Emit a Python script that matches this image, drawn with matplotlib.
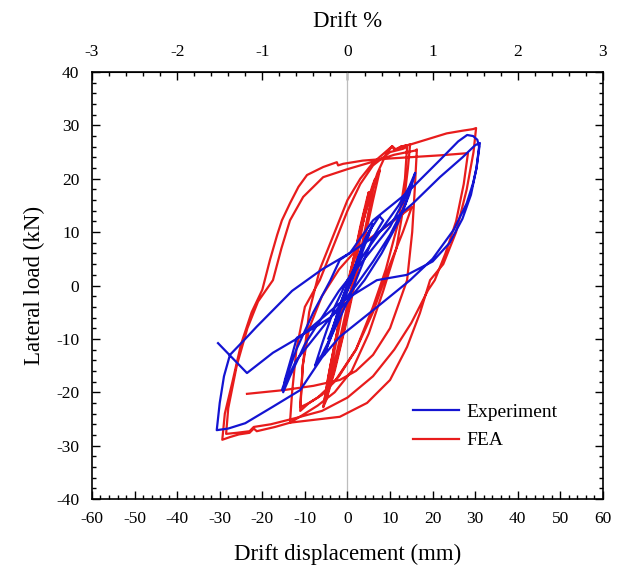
import matplotlib
matplotlib.use("Agg")
import matplotlib.pyplot as plt
from matplotlib.ticker import MultipleLocator

plt.rcParams["font.family"] = ["Liberation Serif", "DejaVu Serif"]
plt.rcParams["axes.unicode_minus"] = False

# Experimental hysteresis (drift displacement in mm, lateral load in kN)
exp_disp = [0, 2, 4, 5, 4.2, 2.5, 1, -1.5, -3.5, -4.5, -4, -3, -1, 1.5, 4, 6, 5.5, 4.5, 2, -1, -4, -5.5,
            -5, -4, -1.5, 2, 5, 7.5, 8.4, 7.5, 6, 3, 0, -3.5, -6, -7.6, -7, -6, -3, 0,
            4, 8, 12, 14.5, 15.9, 14.5, 12, 8, 4, 0, -4, -8, -11.9, -13, -14.7, -15.1,
            -13.5, -10, -6, -2, 2, 6, 10, 13, 15.1, 13.5, 10, 6, 2, -3, -8, -12, -15.4,
            -12, -8, -4, -1.8, 6, 15.4, 21.7, 27, 30, 31.1,
            30.3, 29.5, 28, 25, 20, 14.7, 7, -1.8, -6, -11.1, -17.5, -24, -28, -30.7,
            -30, -29, -27.6, -24, -21.3, -13, -6, 0.6, 6, 13.9, 21.7, 26, 28.1, 29.5, 30.5, 30.9,
            30.3, 29, 27, 24, 20, 14, 6.9, -1.8, -11.1, -17.5, -23.6, -30.4]
exp_load = [0, 4, 8, 9.5, 8.5, 5, 1, -3.5, -8, -10, -9.5, -7, -2, 3, 8.5, 11.5, 10.5, 8.5, 3, -3, -10, -13,
            -12, -9.5, -3, 4, 10, 13, 12.2, 11, 9, 3, -3, -9, -13, -15, -13.5, -11, -4, 1,
            6, 10.5, 15, 18.5, 21.1, 17, 12, 6, 1, -3, -6, -8, -9.8, -13, -17.7, -20,
            -17, -11, -6, -1, 3, 7, 11, 15.5, 19.2, 15, 9.5, 4.5, 0, -5, -10, -14, -19.6,
            -12, -5, 1, 4.8, 9, 15.4, 20.3, 24, 26.3, 26.7,
            22, 19.2, 15.4, 10.5, 5, 1, -4, -9.6, -13.5, -19.6, -22.7, -25.8, -26.8, -27.1,
            -22, -17, -13, -10, -7.7, -1, 3, 6.1, 12.2, 17.3, 23.5, 27, 28.2, 28, 27.3, 26,
            22, 17, 12.5, 8, 4.5, 2, 1, -3.3, -9.6, -12.6, -16.4, -10.8]

# Finite element hysteresis (drift displacement in mm, lateral load in kN)
fea_disp = [0, 1.5, 3, 4.5, 5, 3.5, 1, -1.5, -3.5, -4.5, -3, -0.5, 2, 4, 6, 6.5, 5, 2, -1,
            -3.5, -5, -5.5, -4, -1, 2, 5, 7, 7.6, 6, 3, 0, -3, -5, -5.7, -4.5, -2, 1,
            3, 5, 7, 9, 10.5, 11, 12.5, 14.7, 14.2, 13, 11.5, 8.4, 5, 1, -3, -7, -11, -13.5,
            -13, -12, -10, -6.5, -3, 0, 3, 6, 10, 13, 14, 13.5, 12, 9, 6, 2, -3, -7, -9, -11.1,
            -10.5, -9, -6, -2, 3, 9, 15.1, 13, 10, 6, 2, -2, -6, -9, -11.1,
            -10.5, -9, -6.5, -3, 0, 3, 6, 10.5, 11.5, 12.5, 14.7, 18, 23.3, 27, 29.5, 30.2,
            29.6, 28, 25.5, 22.5, 19.4, 17, 14, 10, 4.6, -1.8, -6, -13.5, -17, -21.3, -22,
            -23, -25.5, -27.6, -29.4,
            -28.8, -27, -25, -22.5, -20, -18.2, -16.5, -15.4, -13.5, -11.5, -9.5, -5.7, -2.5,
            -2.2, -1, 3.6, 10, 16, 22, 28.3,
            27.3, 25.5, 23, 20.5, 18.9, 15, 11, 6, 0, -6, -12, -18, -22, -23, -26, -28.5,
            -28, -26, -23.5, -21, -17.5, -15.5, -13.5, -10.4, -5.7, 0, 6, 11, 16, 16.3,
            15.8, 15.2, 14, 10, 6, 2, -1.8, -8, -15, -23.6]
fea_load = [0, 5, 11, 16, 17.5, 11, 0, -9, -16, -19, -12, -2, 7, 14, 19, 20, 14, 2, -9,
            -17, -21, -22, -15, -3, 7, 16, 20.5, 21.6, 16, 5, -6, -16, -21.5, -22.8, -17, -7, 3,
            10, 16, 21, 24.5, 26.1, 25.4, 26, 26.4, 22, 14, 7, -1, -9, -16, -20, -22.5, -24.5, -25.7,
            -20, -12, -4, 1, 8, 14, 19, 22.5, 25, 25.6, 26, 20, 12, 3, -4, -12, -18, -21, -22, -22.8,
            -15, -8, -2, 3, 7.5, 11, 14.7, 10, 4, -5, -12, -17, -20.5, -22, -23.5,
            -15, -5, 3, 10, 16, 20, 23, 26.1, 25.4, 26, 26.4, 27.2, 28.5, 29, 29.3, 29.5,
            25, 18, 10, 4, 1, -5.2, -11.5, -17.7, -22, -24.6, -25, -25.7, -26.5, -27.3, -26.8,
            -27.6, -27.9, -28.4, -28.9,
            -24, -18, -11, -5, -0.8, 4.8, 9.5, 12.2, 15.4, 18.5, 20.7, 22.2, 23.1,
            22.5, 22.8, 23.4, 23.8, 24.1, 24.4, 24.8,
            19, 12, 6, 1, -0.9, -7, -12, -17, -21, -23.5, -24.8, -26, -26.5, -27.3, -27.6, -27.8,
            -23, -15, -8, -3, 1, 7, 12.2, 16.6, 20.3, 21.8, 23.2, 24.5, 25.3, 25.5,
            18, 10, 1, -8, -13, -16, -17.7, -18.8, -19.6, -20.3]

x_ticks = [-60, -50, -40, -30, -20, -10, 0, 10, 20, 30, 40, 50, 60]
y_ticks = [-40, -30, -20, -10, 0, 10, 20, 30, 40]
drift_ticks = [-3, -2, -1, 0, 1, 2, 3]

fig = plt.figure(figsize=(6.24, 5.71), dpi=100)
ax = fig.add_axes([0.1474, 0.1261, 0.8189, 0.7478])

ax.axvline(0, color="#bdbdbd", lw=0.9, zorder=1)
ax.plot(exp_disp, exp_load, color="#1414d2", lw=1.6, label="Experiment", zorder=3)
ax.plot(fea_disp, fea_load, color="#e81c1c", lw=1.6, label="FEA", zorder=2)

ax.set_xlim(-60, 60)
ax.set_ylim(-40, 40)
ax.set_xticks(x_ticks)
ax.set_yticks(y_ticks)
ax.xaxis.set_minor_locator(MultipleLocator(2))
ax.yaxis.set_minor_locator(MultipleLocator(2))
ax.tick_params(which="both", direction="in", top=False, right=True,
               labelsize=12.5, width=1.0, colors="black")
ax.tick_params(which="major", length=6)
ax.tick_params(which="minor", length=3)
ax.tick_params(axis="x", which="major", pad=9)
ax.tick_params(axis="y", which="major", pad=9)
for s in ax.spines.values():
    s.set_linewidth(1.2)

top = ax.secondary_xaxis("top", functions=(lambda d: d / 20.0, lambda p: p * 20.0))
top.set_xticks(drift_ticks)
top.xaxis.set_minor_locator(MultipleLocator(0.2))
top.tick_params(which="both", direction="in", labelsize=12.5, width=1.0)
top.tick_params(which="major", length=6, pad=9)
top.tick_params(which="minor", length=3)
top.set_xlabel("Drift %", fontsize=16.5, labelpad=12)

ax.set_xlabel("Drift displacement (mm)", fontsize=16.5, labelpad=12)
ax.set_ylabel("Lateral load (kN)", fontsize=16.5, labelpad=8)

ax.legend(loc="lower right", bbox_to_anchor=(0.945, 0.075), frameon=False,
          fontsize=14, handlelength=2.4, handletextpad=0.35, labelspacing=0.55)

fig.savefig("out.png", dpi=100)
